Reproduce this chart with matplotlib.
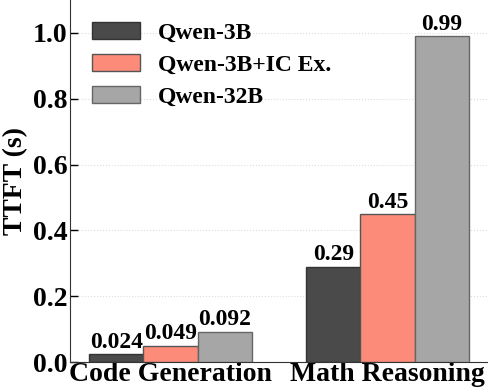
import matplotlib
matplotlib.use("Agg")
import matplotlib.pyplot as plt
import numpy as np

categories = ["Code Generation", "Math Reasoning"]
series_names = ["Qwen-3B", "Qwen-3B+IC Ex.", "Qwen-32B"]
qwen3b = [0.024, 0.29]
qwen3b_ic = [0.049, 0.45]
qwen32b = [0.092, 0.99]
labels3b = ["0.024", "0.29"]
labels3b_ic = ["0.049", "0.45"]
labels32b = ["0.092", "0.99"]

colors = ["#4a4a4a", "#fd8b79", "#a6a6a6"]
edges = ["#333333", "#555555", "#666666"]

plt.rcParams['font.family'] = ['Liberation Serif', 'DejaVu Serif']
plt.rcParams['font.weight'] = 'bold'

fig = plt.figure(figsize=(4.88, 3.92), dpi=100)
ax = fig.add_axes([70/488, 30/392, 1 - 70/488, 1 - 30/392])

x = np.arange(len(categories))
w = 0.25
data = [qwen3b, qwen3b_ic, qwen32b]
labs = [labels3b, labels3b_ic, labels32b]
for i, (vals, lab) in enumerate(zip(data, labs)):
    bars = ax.bar(x + (i - 1) * w, vals, w, color=colors[i], edgecolor=edges[i],
                  linewidth=1.0, label=series_names[i], zorder=3)
    ax.bar_label(bars, labels=lab, padding=1, fontsize=17, fontweight='bold')

ax.set_ylim(0, 1.1)
ax.set_yticks([0.0, 0.2, 0.4, 0.6, 0.8, 1.0])
ax.set_yticklabels(["0.0", "0.2", "0.4", "0.6", "0.8", "1.0"])
ax.set_xticks(x)
ax.set_xticklabels(categories)
ax.tick_params(axis='both', direction='in', labelsize=20, width=1, pad=2)
ax.tick_params(axis='y', length=6)
ax.tick_params(axis='x', length=5, pad=0)
for lbl in ax.get_xticklabels() + ax.get_yticklabels():
    lbl.set_fontweight('bold')
ax.set_ylabel("TTFT (s)", fontsize=20, fontweight='bold', labelpad=3)
ax.spines['top'].set_visible(False)
ax.spines['right'].set_visible(False)
ax.spines['left'].set_color('#333333')
ax.spines['bottom'].set_color('#333333')
ax.yaxis.grid(True, linestyle=':', color='#dddddd', linewidth=0.8, zorder=0)
ax.set_axisbelow(True)

ax.legend(loc='upper left', bbox_to_anchor=(0.053, 0.938), frameon=False,
          prop={'size': 17, 'weight': 'bold'}, handlelength=2.03, handleheight=0.72,
          labelspacing=0.43, handletextpad=0.75, borderaxespad=0, borderpad=0)

fig.savefig("out.png", dpi=100)
